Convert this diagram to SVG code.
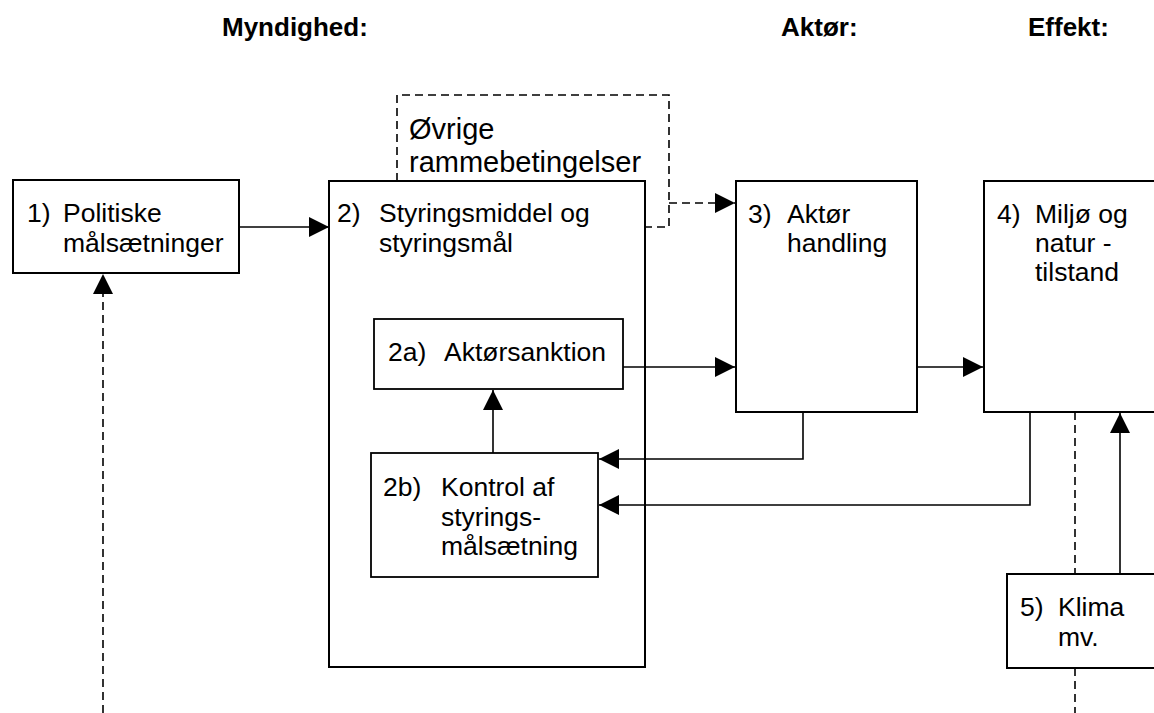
<svg xmlns="http://www.w3.org/2000/svg" width="1154" height="713" viewBox="0 0 1154 713">
<style>
text{font-family:"Liberation Sans",Arial,sans-serif;font-size:26.5px;fill:#000}
.h{font-weight:bold;font-size:26px}
.lbl{font-size:29px}
.box{fill:#fff;stroke:#000;stroke-width:2}
.frame{fill:none;stroke:#000;stroke-width:2}
.ibox{fill:#fff;stroke:#000;stroke-width:1.8}
.c{fill:none;stroke:#000;stroke-width:1.6}
.d{fill:none;stroke:#000;stroke-width:1.6;stroke-dasharray:8 5}
</style>
<defs>
<marker id="ah" markerUnits="userSpaceOnUse" markerWidth="20" markerHeight="20" refX="20" refY="10" orient="auto">
<path d="M0,0 L20,10 L0,20 z" fill="#000"/>
</marker>
</defs>
<g id="headers">
<text class="h" x="222" y="36">Myndighed:</text>
<text class="h" x="781" y="36">Aktør:</text>
<text class="h" x="1028" y="36">Effekt:</text>
</g>
<g id="connectors">
<path class="d" d="M397,181 L397,95 L669,95 L669,227 L645,227"/>
<path class="d" d="M669,203 L735,203" marker-end="url(#ah)"/>
<path class="d" d="M103,713 L103,274" marker-end="url(#ah)"/>
<path class="d" d="M1075,412 L1075,574 M1075,668 L1075,713"/>
<path class="c" d="M239,227 L329,227" marker-end="url(#ah)"/>
<path class="c" d="M623,367 L735,367" marker-end="url(#ah)"/>
<path class="c" d="M917,367 L983,367" marker-end="url(#ah)"/>
<path class="c" d="M493,453 L493,390" marker-end="url(#ah)"/>
<path class="c" d="M803,412 L803,459 L599,459" marker-end="url(#ah)"/>
<path class="c" d="M1030,412 L1030,505 L599,505" marker-end="url(#ah)"/>
<path class="c" d="M1120,574 L1120,413" marker-end="url(#ah)"/>
</g>
<g id="n1">
<rect class="box" x="13" y="180" width="226" height="93"/>
<text x="27" y="222">1)</text>
<text x="63" y="222">Politiske</text>
<text x="63" y="252">målsætninger</text>
</g>
<g id="n2">
<rect class="frame" x="329" y="181" width="316" height="486"/>
<text x="337" y="222">2)</text>
<text x="379" y="222">Styringsmiddel og</text>
<text x="379" y="252">styringsmål</text>
</g>
<g id="n0">
<text class="lbl" x="409" y="139">Øvrige</text>
<text class="lbl" x="409" y="172">rammebetingelser</text>
</g>
<g id="n2a">
<rect class="ibox" x="374" y="319" width="249" height="70"/>
<text x="388" y="361">2a)</text>
<text x="444" y="361">Aktørsanktion</text>
</g>
<g id="n2b">
<rect class="ibox" x="371" y="453" width="227" height="124"/>
<text x="383" y="496">2b)</text>
<text x="441" y="496">Kontrol af</text>
<text x="441" y="526">styrings-</text>
<text x="441" y="555">målsætning</text>
</g>
<g id="n3">
<rect class="box" x="736" y="181" width="181" height="231"/>
<text x="748" y="223">3)</text>
<text x="787" y="223">Aktør</text>
<text x="787" y="252">handling</text>
</g>
<g id="n4">
<rect class="box" x="984" y="181" width="190" height="231"/>
<text x="997" y="223">4)</text>
<text x="1035" y="223">Miljø og</text>
<text x="1035" y="252">natur -</text>
<text x="1035" y="281">tilstand</text>
</g>
<g id="n5">
<rect class="box" x="1007" y="574" width="167" height="94"/>
<text x="1020" y="616">5)</text>
<text x="1058" y="616">Klima</text>
<text x="1058" y="646">mv.</text>
</g>
</svg>
